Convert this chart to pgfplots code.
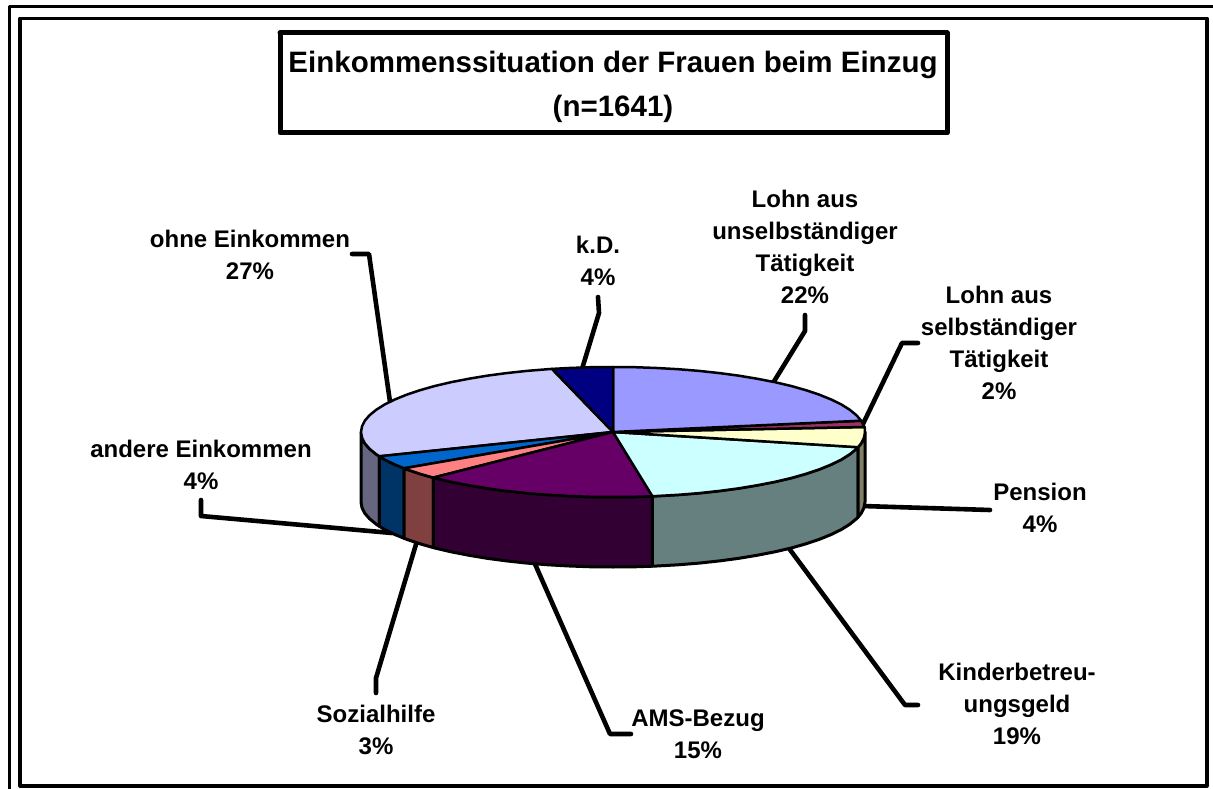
\documentclass[border=0pt]{standalone}
\usepackage{pgfplots}
\pgfplotsset{compat=1.18}
\usepackage{fontspec}
\setmainfont{Liberation Sans}
\tikzset{lab/.style={font=\bfseries\fontsize{24}{32.2}\selectfont,align=center,text=black,inner sep=0pt,anchor=center}}
\begin{document}
\begin{tikzpicture}
\begin{axis}[hide axis,scale only axis,width=1213pt,height=789pt,xmin=0,xmax=1213,ymin=0,ymax=789,y dir=reverse,clip=true,
  every axis plot/.append style={line join=round,line cap=round}]
% frames
\addplot[black,line width=3pt,line cap=butt] coordinates {(9,789) (9,6.5) (1213,6.5)};
\addplot[black,line width=3.2pt] coordinates {(20,18.5) (1207,18.5) (1207,786) (20,786) (20,18.5)};
\addplot[black,line width=5pt,fill=white] coordinates {(280,33) (947,33) (947,133) (280,133) (280,33)};
% leader lines
\addplot[black,line width=4.6pt] coordinates {(352,254) (369,254) (390,402)};
\addplot[black,line width=4.6pt] coordinates {(598,297) (599,313) (582,369)};
\addplot[black,line width=4.6pt] coordinates {(805,315) (805,331) (773,383)};
\addplot[black,line width=4.6pt] coordinates {(918,343) (902,343) (862,426)};
\addplot[black,line width=4.6pt] coordinates {(990,510) (862,506)};
\addplot[black,line width=4.6pt] coordinates {(918,705) (905,705) (788,547)};
\addplot[black,line width=4.6pt] coordinates {(631,734) (610,734) (535,564)};
\addplot[black,line width=4.6pt] coordinates {(376,693) (376,678) (417,541)};
\addplot[black,line width=4.6pt] coordinates {(201,500) (201,516) (392,533)};
% sides
\addplot[draw=black,line width=3pt,fill={rgb,255:red,102;green,102;blue,128}] coordinates {(361,432)(362,437.7)(364.8,443.3)(369.6,448.8)(376.2,454.2)(379.4,456.3)(379.4,526.3)(376.2,524.2)(369.6,518.8)(364.8,513.3)(362,507.7)(361,502)(361,432)};
\addplot[draw=black,line width=3pt,fill={rgb,255:red,0;green,51;blue,102}] coordinates {(379.4,456.3)(384.6,459.5)(394.8,464.5)(404.1,468.3)(404.1,538.3)(394.8,534.5)(384.6,529.5)(379.4,526.3)(379.4,456.3)};
\addplot[draw=black,line width=3pt,fill={rgb,255:red,128;green,64;blue,64}] coordinates {(404.1,468.3)(406.6,469.3)(420,473.8)(433.3,477.6)(433.3,547.6)(420,543.8)(406.6,539.3)(404.1,538.3)(404.1,468.3)};
\addplot[draw=black,line width=3pt,fill={rgb,255:red,51;green,0;blue,51}] coordinates {(433.3,477.6)(434.8,478)(451,481.8)(468.5,485.2)(487,488.3)(506.5,490.9)(526.8,493.1)(547.8,494.8)(569.2,496)(591,496.8)(613,497)(635,496.8)(652.4,496.2)(652.4,566.2)(635,566.8)(613,567)(591,566.8)(569.2,566)(547.8,564.8)(526.8,563.1)(506.5,560.9)(487,558.3)(468.5,555.2)(451,551.8)(434.8,548)(433.3,547.6)(433.3,477.6)};
\addplot[draw=black,line width=3pt,fill={rgb,255:red,102;green,128;blue,128}] coordinates {(652.4,496.2)(656.8,496)(678.2,494.8)(699.2,493.1)(719.5,490.9)(739,488.3)(757.5,485.2)(775,481.8)(791.2,478)(806,473.8)(819.4,469.3)(831.2,464.5)(841.4,459.5)(849.8,454.2)(856.4,448.8)(858,447.2)(858,517.2)(856.4,518.8)(849.8,524.2)(841.4,529.5)(831.2,534.5)(819.4,539.3)(806,543.8)(791.2,548)(775,551.8)(757.5,555.2)(739,558.3)(719.5,560.9)(699.2,563.1)(678.2,564.8)(656.8,566)(652.4,566.2)(652.4,496.2)};
\addplot[draw=black,line width=3pt,fill={rgb,255:red,128;green,128;blue,102}] coordinates {(858,447.2)(861.2,443.3)(864,437.7)(865,432)(865,502)(864,507.7)(861.2,513.3)(858,517.2)(858,447.2)};
% tops
\addplot[draw=black,line width=2.5pt,fill={rgb,255:red,204;green,204;blue,255}] coordinates {(613,432)(552,368.9)(547.8,369.2)(526.8,370.9)(506.5,373.1)(487,375.7)(468.5,378.8)(451,382.2)(434.8,386)(420,390.2)(406.6,394.7)(394.8,399.5)(384.6,404.5)(376.2,409.8)(369.6,415.2)(364.8,420.7)(362,426.3)(361,432)(362,437.7)(364.8,443.3)(369.6,448.8)(376.2,454.2)(379.4,456.3)(613,432)};
\addplot[draw=black,line width=2.5pt,fill={rgb,255:red,0;green,102;blue,204}] coordinates {(613,432)(379.4,456.3)(384.6,459.5)(394.8,464.5)(404.1,468.3)(613,432)};
\addplot[draw=black,line width=2.5pt,fill={rgb,255:red,255;green,128;blue,128}] coordinates {(613,432)(404.1,468.3)(406.6,469.3)(420,473.8)(433.3,477.6)(613,432)};
\addplot[draw=black,line width=2.5pt,fill={rgb,255:red,102;green,0;blue,102}] coordinates {(613,432)(433.3,477.6)(434.8,478)(451,481.8)(468.5,485.2)(487,488.3)(506.5,490.9)(526.8,493.1)(547.8,494.8)(569.2,496)(591,496.8)(613,497)(635,496.8)(652.4,496.2)(613,432)};
\addplot[draw=black,line width=2.5pt,fill={rgb,255:red,204;green,255;blue,255}] coordinates {(613,432)(652.4,496.2)(656.8,496)(678.2,494.8)(699.2,493.1)(719.5,490.9)(739,488.3)(757.5,485.2)(775,481.8)(791.2,478)(806,473.8)(819.4,469.3)(831.2,464.5)(841.4,459.5)(849.8,454.2)(856.4,448.8)(858,447.2)(613,432)};
\addplot[draw=black,line width=2.5pt,fill={rgb,255:red,255;green,255;blue,204}] coordinates {(613,432)(858,447.2)(861.2,443.3)(864,437.7)(865,432)(864.7,427)(613,432)};
\addplot[draw=black,line width=2.5pt,fill={rgb,255:red,153;green,51;blue,102}] coordinates {(613,432)(864.7,427)(864,426.3)(861.2,420.7)(613,432)};
\addplot[draw=black,line width=2.5pt,fill={rgb,255:red,153;green,153;blue,255}] coordinates {(613,432)(861.2,420.7)(856.4,415.2)(849.8,409.8)(841.4,404.5)(831.2,399.5)(819.4,394.7)(806,390.2)(791.2,386)(775,382.2)(757.5,378.8)(739,375.7)(719.5,373.1)(699.2,370.9)(678.2,369.2)(656.8,368)(635,367.2)(613,367)(613,432)};
\addplot[draw=black,line width=2.5pt,fill={rgb,255:red,0;green,0;blue,128}] coordinates {(613,432)(613,367)(591,367.2)(569.2,368)(552,368.9)(613,432)};
% texts
\node[lab,font=\bfseries\fontsize{29.5}{43.5}\selectfont] at (axis cs:613,87) {Einkommenssituation der Frauen beim Einzug\\(n=1641)};
\node[lab] at (axis cs:250,255) {ohne Einkommen\\27\%};
\node[lab] at (axis cs:598,261) {k.D.\\4\%};
\node[lab] at (axis cs:805,247) {Lohn aus\\unselbständiger\\Tätigkeit\\22\%};
\node[lab] at (axis cs:999,343) {Lohn aus\\selbständiger\\Tätigkeit\\2\%};
\node[lab] at (axis cs:1040,508) {Pension\\4\%};
\node[lab] at (axis cs:1017,704) {Kinderbetreu-\\ungsgeld\\19\%};
\node[lab] at (axis cs:698,734) {AMS-Bezug\\15\%};
\node[lab] at (axis cs:376,730) {Sozialhilfe\\3\%};
\node[lab] at (axis cs:201,465) {andere Einkommen\\4\%};
\end{axis}
\pgfresetboundingbox
\useasboundingbox (0,0) rectangle (1213pt,789pt);
\end{tikzpicture}
\end{document}
